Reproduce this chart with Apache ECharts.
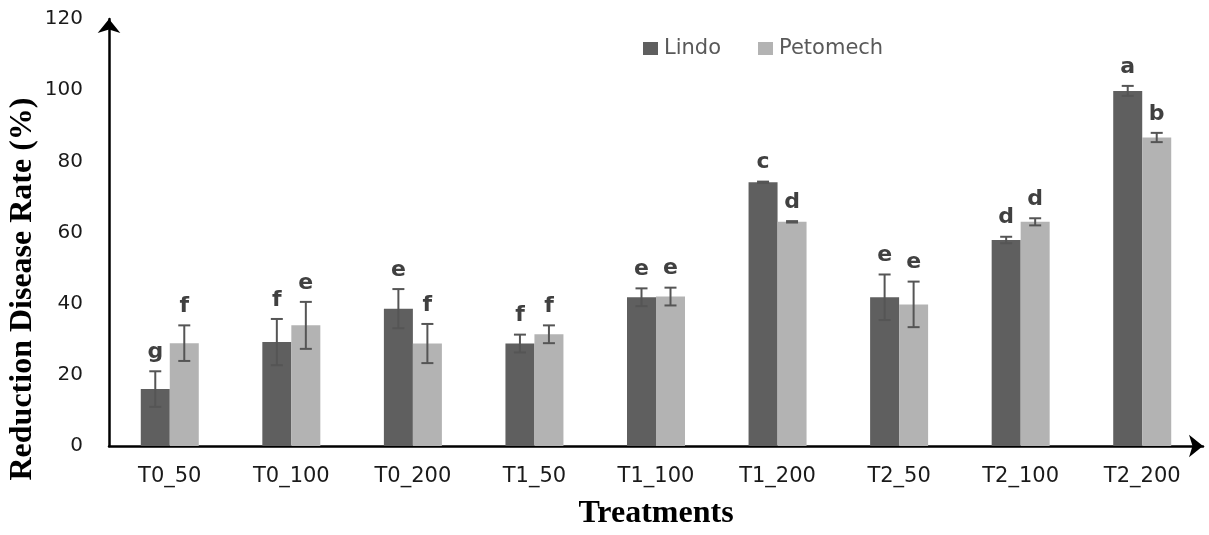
<!DOCTYPE html>
<html>
<head>
<meta charset="utf-8">
<script src="https://cdn.jsdelivr.net/npm/echarts@6/dist/echarts.min.js"></script>
<style>
html,body{margin:0;padding:0;background:#fff;}
#chart{width:1209px;height:535px;}
</style>
</head>
<body>
<div id="chart"></div>
<script>
var categories = ['T0_50','T0_100','T0_200','T1_50','T1_100','T1_200','T2_50','T2_100','T2_200'];
var lindo      = [16, 29.2, 38.6, 28.8, 41.8, 74.1, 41.8, 57.9, 99.8];
var lindoErr   = [5, 6.5, 5.5, 2.5, 2.5, 0.2, 6.4, 0.9, 1.4];
var lindoLetters = ['g','f','e','f','e','c','e','d','a'];
var petomech   = [28.9, 33.9, 28.8, 31.4, 42, 63, 39.8, 63, 86.7];
var petomechErr = [5, 6.6, 5.5, 2.5, 2.5, 0.2, 6.4, 1, 1.3];
var petomechLetters = ['f','e','f','f','e','d','e','d','b'];
var yTicks = [0, 20, 40, 60, 80, 100, 120];

var BAR_W = 29;
var chart = echarts.init(document.getElementById('chart'), null, {renderer:'canvas'});

function errSeries(name, vals, errs, letters, side) {
  var data = vals.map(function(v, i){ return [i, v, errs[i]]; });
  return {
    type: 'custom',
    name: name + ' err',
    z: 10,
    silent: true,
    data: data,
    encode: {x: 0, y: 1},
    renderItem: function(params, api) {
      var i = api.value(0), v = api.value(1), e = api.value(2);
      var letter = letters[params.dataIndex];
      var c = api.coord([i, v]);
      var x = c[0] + side * BAR_W / 2;
      var top = api.coord([i, v + e])[1];
      var bot = api.coord([i, v - e])[1];
      var cap = 6;
      var st = {stroke: '#555555', lineWidth: 2};
      return {
        type: 'group',
        children: [
          {type:'line', shape:{x1:x, y1:top, x2:x, y2:bot}, style: st},
          {type:'line', shape:{x1:x-cap, y1:top, x2:x+cap, y2:top}, style: st},
          {type:'line', shape:{x1:x-cap, y1:bot, x2:x+cap, y2:bot}, style: st},
          {type:'text', x: x, y: top - 8, style:{
            text: letter, fill:'#404040', fontSize: 22, fontWeight: 'bold', fontFamily: 'DejaVu Sans',
            align:'center', verticalAlign:'bottom'}}
        ]
      };
    }
  };
}

var option = {
  backgroundColor: '#ffffff',
  animation: false,
  grid: {left: 109, right: 6, top: 19, bottom: 84, containLabel: false},
  legend: {
    data: ['Lindo', 'Petomech'],
    left: 643, top: 38, padding: 0,
    icon: 'rect', itemWidth: 15, itemHeight: 13, itemGap: 37,
    textStyle: {fontFamily: 'DejaVu Sans', fontSize: 21, color: '#595959', padding: [0, 0, 0, 1]}
  },
  xAxis: {
    type: 'category',
    data: categories,
    axisTick: {show: false},
    axisLine: {lineStyle: {color: '#000', width: 2.5}, symbol: ['none', 'arrow'], symbolSize: [17, 14], symbolOffset: [0, 0]},
    axisLabel: {fontFamily: 'DejaVu Sans', fontSize: 21, color: '#1a1a1a', margin: 20},
    name: 'Treatments',
    nameLocation: 'middle',
    nameGap: 52,
    nameTextStyle: {fontFamily: 'Liberation Serif', fontWeight: 'bold', fontSize: 32, color: '#000'}
  },
  yAxis: {
    type: 'value',
    min: 0, max: 120, interval: 20,
    axisTick: {show: false},
    splitLine: {show: false},
    axisLine: {show: true, lineStyle: {color: '#000', width: 2.5}, symbol: ['none', 'arrow'], symbolSize: [17, 14], symbolOffset: [0, 0]},
    axisLabel: {fontFamily: 'DejaVu Sans', fontSize: 20, color: '#1a1a1a', margin: 26,
      formatter: function(v){ return yTicks.indexOf(v) >= 0 ? String(v) : ''; }}
  },
  graphic: [{
    type: 'text',
    x: 23, y: 289, rotation: Math.PI / 2,
    style: {text: 'Reduction Disease Rate (%)', fontSize: 32, fontWeight: 'bold', fontFamily: 'Liberation Serif', fill: '#000',
      align: 'center', verticalAlign: 'middle'}
  }],
  series: [
    {name: 'Lindo', type: 'bar', data: lindo, barWidth: BAR_W, barGap: '0%', itemStyle: {color: '#5f5f5f'}},
    {name: 'Petomech', type: 'bar', data: petomech, barWidth: BAR_W, barGap: '0%', itemStyle: {color: '#b3b3b3'}},
    errSeries('Lindo', lindo, lindoErr, lindoLetters, -1),
    errSeries('Petomech', petomech, petomechErr, petomechLetters, 1)
  ]
};
chart.setOption(option);
</script>
</body>
</html>
